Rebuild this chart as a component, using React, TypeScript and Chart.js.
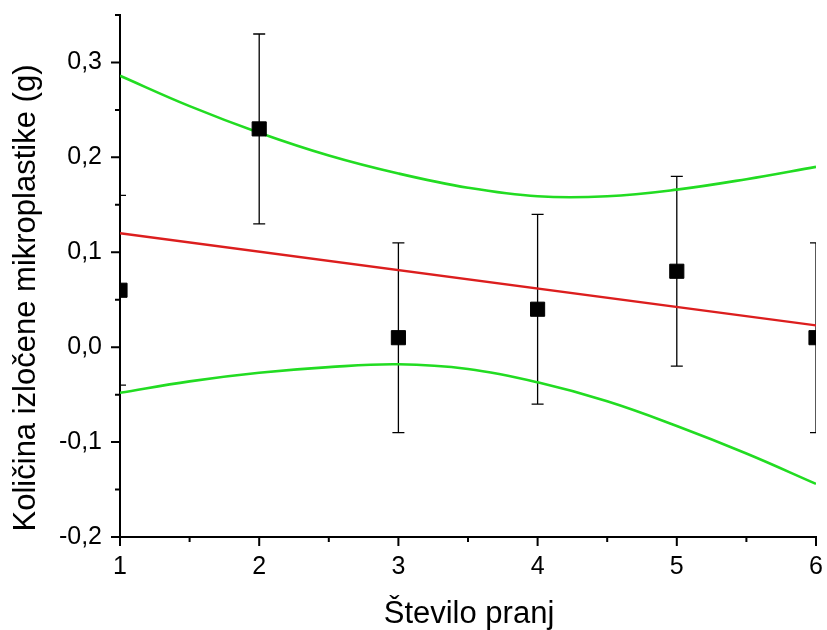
import { useEffect, useRef } from 'react';
import { Chart, registerables } from 'chart.js';

Chart.register(...registerables);

const washCounts = [1, 2, 3, 4, 5, 6];
const massValues = [0.06, 0.23, 0.01, 0.04, 0.08, 0.01];
const massErrors = [0.1, 0.1, 0.1, 0.1, 0.1, 0.1];

const fitX = [1, 6];
const fitValues = [0.12, 0.023];

const bandX = [1, 1.5, 2, 2.5, 3, 3.5, 4, 4.5, 5, 5.5, 6];
const upperBand = [0.286, 0.254, 0.226, 0.202, 0.183, 0.168, 0.159, 0.159, 0.166, 0.177, 0.19];
const lowerBand = [-0.048, -0.036, -0.027, -0.021, -0.018, -0.023, -0.037, -0.057, -0.083, -0.112, -0.144];

const xTickValues = [1, 2, 3, 4, 5, 6];
const xTickLabels = ['1', '2', '3', '4', '5', '6'];
const xMinorTicks = [1.5, 2.5, 3.5, 4.5, 5.5];
const yTickValues = [-0.2, -0.1, 0, 0.1, 0.2, 0.3];
const yTickLabels = ['-0,2', '-0,1', '0,0', '0,1', '0,2', '0,3'];
const yMinorTicks = [-0.15, -0.05, 0.05, 0.15, 0.25, 0.35];

const xTitle = 'Število pranj';
const yTitle = 'Količina izločene mikroplastike (g)';

const FONT = '"Liberation Sans", Arial, sans-serif';

const decorations = {
  id: 'decorations',
  beforeDatasetsDraw(chart: any) {
    const { ctx, chartArea, scales } = chart;
    const x = scales.x;
    const y = scales.y;
    ctx.save();
    ctx.beginPath();
    ctx.rect(chartArea.left, chartArea.top, chartArea.right - chartArea.left, chartArea.bottom - chartArea.top);
    ctx.clip();
    ctx.strokeStyle = '#000';
    ctx.lineWidth = 1.3;
    washCounts.forEach((c, i) => {
      const px = x.getPixelForValue(c);
      const top = y.getPixelForValue(massValues[i] + massErrors[i]);
      const bot = y.getPixelForValue(massValues[i] - massErrors[i]);
      ctx.beginPath();
      ctx.moveTo(px, top);
      ctx.lineTo(px, bot);
      ctx.moveTo(px - 6, top);
      ctx.lineTo(px + 6, top);
      ctx.moveTo(px - 6, bot);
      ctx.lineTo(px + 6, bot);
      ctx.stroke();
    });
    ctx.restore();
  },
  afterDraw(chart: any) {
    const { ctx, chartArea, scales } = chart;
    const x = scales.x;
    const y = scales.y;
    ctx.save();
    ctx.strokeStyle = '#000';
    ctx.lineWidth = 2;
    ctx.beginPath();
    xTickValues.forEach((v) => {
      const px = x.getPixelForValue(v);
      ctx.moveTo(px, chartArea.bottom);
      ctx.lineTo(px, chartArea.bottom + 9);
    });
    xMinorTicks.forEach((v) => {
      const px = x.getPixelForValue(v);
      ctx.moveTo(px, chartArea.bottom);
      ctx.lineTo(px, chartArea.bottom + 5);
    });
    yTickValues.forEach((v) => {
      const py = y.getPixelForValue(v);
      ctx.moveTo(chartArea.left, py);
      ctx.lineTo(chartArea.left - 9, py);
    });
    yMinorTicks.forEach((v) => {
      const py = y.getPixelForValue(v);
      ctx.moveTo(chartArea.left, py);
      ctx.lineTo(chartArea.left - 5, py);
    });
    ctx.stroke();

    ctx.fillStyle = '#000';
    ctx.font = `31px ${FONT}`;
    ctx.textAlign = 'center';
    ctx.textBaseline = 'alphabetic';
    ctx.fillText(xTitle, (chartArea.left + chartArea.right) / 2 + 1, 623);

    ctx.translate(35, 298);
    ctx.rotate(-Math.PI / 2);
    ctx.fillText(yTitle, 0, 0);
    ctx.restore();
  },
};

export default function App() {
  const canvasRef = useRef<HTMLCanvasElement | null>(null);

  useEffect(() => {
    if (!canvasRef.current) return;
    const chart = new Chart(canvasRef.current, {
      type: 'scatter',
      data: {
        datasets: [
          {
            label: 'Meritve',
            data: washCounts.map((c, i) => ({ x: c, y: massValues[i] })),
            pointStyle: 'rect',
            pointRadius: 10,
            pointBorderWidth: 1,
            backgroundColor: '#000',
            borderColor: '#000',
            clip: 0,
          },
          {
            label: 'Linearna regresija',
            data: fitX.map((c, i) => ({ x: c, y: fitValues[i] })),
            showLine: true,
            borderColor: '#dc1e1e',
            borderWidth: 2.4,
            pointRadius: 0,
            clip: 0,
          },
          {
            label: 'Zgornja meja',
            data: bandX.map((c, i) => ({ x: c, y: upperBand[i] })),
            showLine: true,
            borderColor: '#22dc22',
            borderWidth: 2.6,
            pointRadius: 0,
            tension: 0.4,
            clip: 0,
          },
          {
            label: 'Spodnja meja',
            data: bandX.map((c, i) => ({ x: c, y: lowerBand[i] })),
            showLine: true,
            borderColor: '#22dc22',
            borderWidth: 2.6,
            pointRadius: 0,
            tension: 0.4,
            clip: 0,
          },
        ],
      },
      options: {
        animation: false,
        responsive: false,
        devicePixelRatio: 1,
        layout: { padding: { left: 0, top: 15, right: 9, bottom: 0 } },
        plugins: {
          legend: { display: false },
          tooltip: { enabled: false },
        },
        scales: {
          x: {
            type: 'linear',
            min: 1,
            max: 6,
            afterBuildTicks: (scale: any) => {
              scale.ticks = xTickValues.map((v) => ({ value: v }));
            },
            afterFit: (scale: any) => {
              scale.height = 93;
              scale.paddingLeft = 0;
              scale.paddingRight = 0;
              scale.paddingTop = 0;
              scale.paddingBottom = 0;
            },
            grid: { display: false, drawTicks: false },
            border: { display: true, color: '#000', width: 2 },
            ticks: {
              padding: 15,
              color: '#000',
              font: { family: FONT, size: 25 },
              maxRotation: 0,
              autoSkip: false,
              callback: (value: any) => {
                const idx = xTickValues.findIndex((v) => Math.abs(v - value) < 1e-9);
                return idx >= 0 ? xTickLabels[idx] : '';
              },
            },
          },
          y: {
            type: 'linear',
            min: -0.2,
            max: 0.35,
            afterBuildTicks: (scale: any) => {
              scale.ticks = yTickValues.map((v) => ({ value: v }));
            },
            afterFit: (scale: any) => {
              scale.width = 120;
              scale.paddingLeft = 0;
              scale.paddingRight = 0;
              scale.paddingTop = 0;
              scale.paddingBottom = 0;
            },
            grid: { display: false, drawTicks: false },
            border: { display: true, color: '#000', width: 2 },
            ticks: {
              padding: 18,
              color: '#000',
              font: { family: FONT, size: 25 },
              autoSkip: false,
              callback: (value: any) => {
                const idx = yTickValues.findIndex((v) => Math.abs(v - value) < 1e-9);
                return idx >= 0 ? yTickLabels[idx] : '';
              },
            },
          },
        },
      },
      plugins: [decorations],
    });
    return () => chart.destroy();
  }, []);

  return (
    <div style={{ position: 'absolute', left: 0, top: 0, width: 827, height: 630, background: '#fff' }}>
      <canvas ref={canvasRef} width={827} height={630} style={{ display: 'block' }} />
    </div>
  );
}
